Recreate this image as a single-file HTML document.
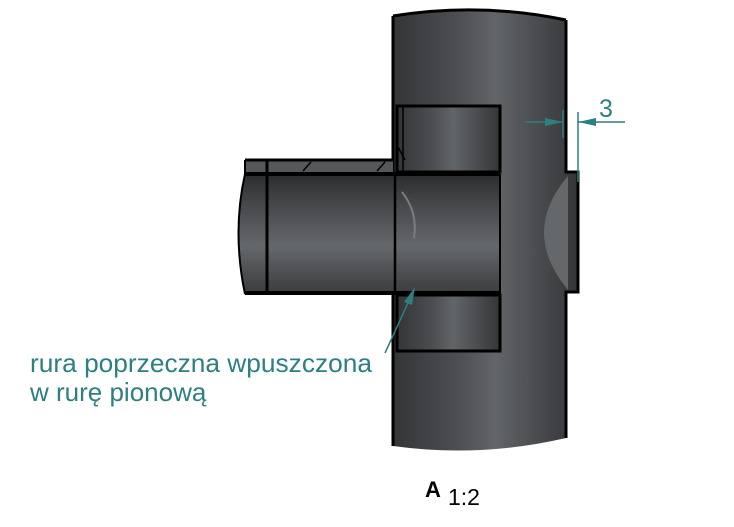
<!DOCTYPE html>
<html><head><style>
html,body{margin:0;padding:0;background:#fff;width:734px;height:527px;overflow:hidden}
text{font-family:"Liberation Sans",sans-serif}
</style></head><body>
<svg width="734" height="527" viewBox="0 0 734 527" xmlns="http://www.w3.org/2000/svg">
<defs>
<linearGradient id="gv" x1="0" x2="1" y1="0" y2="0">
<stop offset="0" stop-color="#333537"/><stop offset="0.35" stop-color="#4c4e51"/><stop offset="0.55" stop-color="#626568"/><stop offset="0.8" stop-color="#484a4d"/><stop offset="1" stop-color="#333537"/>
</linearGradient>
<linearGradient id="gh" x1="0" x2="0" y1="0" y2="1">
<stop offset="0" stop-color="#2a2c2e"/><stop offset="0.25" stop-color="#45474a"/><stop offset="0.6" stop-color="#65686b"/><stop offset="1" stop-color="#3a3c3e"/>
</linearGradient>
</defs>
<path d="M393 16 Q480 2 566 20 L566 172 L578 172 L578 292 L566 292 L566 438 Q480 458 393 446 Z" fill="url(#gv)"/>
<path d="M568 176 Q520 232 568 290 Z" fill="#65686b"/>
<path d="M393 16 Q480 2 566 20 M566 20 L566 172 L578 172 L578 292 L566 292 L566 438 M393 16 L393 446" fill="none" stroke="#000" stroke-width="3"/>
<rect x="397" y="106" width="103" height="66" fill="url(#gv)" stroke="#000" stroke-width="3"/>
<rect x="397" y="295" width="103" height="56" fill="url(#gv)" stroke="#000" stroke-width="3"/>
<line x1="403" y1="106" x2="403" y2="172" stroke="#000" stroke-width="1.5"/>
<line x1="397" y1="145" x2="405" y2="160" stroke="#000" stroke-width="1.5"/>
<path d="M245 160 L393 160 L393 172 L245 172 Z" fill="#55585b"/>
<path d="M245 174 Q232 232 245 294 L500 294 L500 174 Z" fill="url(#gh)"/>
<path d="M245 174 Q232 232 245 294" fill="none" stroke="#000" stroke-width="2"/>
<line x1="245" y1="160" x2="394" y2="160" stroke="#000" stroke-width="3"/>
<line x1="245" y1="160" x2="245" y2="174" stroke="#000" stroke-width="2"/>
<line x1="245" y1="174" x2="500" y2="174" stroke="#000" stroke-width="4"/>
<line x1="245" y1="293" x2="500" y2="293" stroke="#000" stroke-width="4"/>
<line x1="267" y1="160" x2="267" y2="294" stroke="#000" stroke-width="3"/>
<line x1="395" y1="174" x2="395" y2="294" stroke="#000" stroke-width="2.5"/>
<line x1="500" y1="174" x2="500" y2="294" stroke="#000" stroke-width="2"/>
<line x1="303" y1="171" x2="311" y2="162" stroke="#000" stroke-width="1.5"/>
<line x1="377" y1="171" x2="385" y2="162" stroke="#000" stroke-width="1.5"/>
<path d="M402 192 Q418 212 414 238" fill="none" stroke="#7a7d80" stroke-width="2"/>
<g stroke="#2e7f7f" stroke-width="1.5" fill="#2e7f7f">
<line x1="525" y1="122" x2="563" y2="122"/>
<line x1="578" y1="122" x2="625" y2="122"/>
<line x1="563" y1="110" x2="563" y2="138"/>
<line x1="578" y1="112" x2="578" y2="182"/>
<path d="M563 122 L545 118 L545 126 Z" stroke="none"/>
<path d="M578 122 L596 118 L596 126 Z" stroke="none"/>
<line x1="414" y1="290" x2="385" y2="353"/>
<path d="M415 287 L404 302 L412 305 Z" stroke="none"/>
</g>
<text x="599" y="117" font-size="25" fill="#2e7f7f">3</text>
<text x="30" y="372" font-size="26" fill="#2e7f7f" textLength="342" lengthAdjust="spacingAndGlyphs">rura poprzeczna wpuszczona</text>
<text x="30" y="401" font-size="26" fill="#2e7f7f">w rurę pionową</text>
<text x="425" y="497" font-size="22" font-weight="bold" fill="#000">A</text>
<text x="448" y="505" font-size="23" fill="#000">1:2</text>
</svg>
</body></html>
